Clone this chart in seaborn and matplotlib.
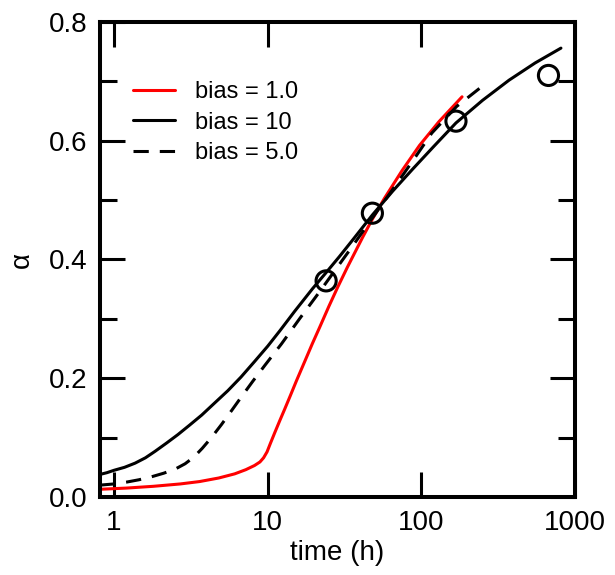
import numpy as np
import pandas as pd
import matplotlib
matplotlib.use("Agg")
import matplotlib.pyplot as plt
import seaborn as sns
from matplotlib.ticker import MultipleLocator, NullLocator, FixedLocator, FormatStrFormatter

# Values (time in h, alpha)
t_bias1 = [0.81, 1.2, 1.8, 2.7, 3.6, 4.8, 6.1, 7.2, 8.2, 8.9, 9.4, 9.9, 10.4, 11.1, 12.0,
           12.9, 14.0, 15.4, 17.4, 19.5, 21.8, 25, 28.5, 33, 41.6, 48, 57.5, 75, 97.2, 130, 184]
a_bias1 = [0.013, 0.015, 0.018, 0.022, 0.026, 0.032, 0.039, 0.046, 0.053, 0.059, 0.066, 0.076,
           0.090, 0.108, 0.129, 0.148, 0.170, 0.196, 0.228, 0.258, 0.286, 0.321, 0.353, 0.387,
           0.438, 0.468, 0.503, 0.550, 0.592, 0.632, 0.674]

t_bias10 = [0.81, 0.9, 1.0, 1.17, 1.37, 1.6, 1.85, 2.2, 2.6, 3.1, 3.72, 4.5, 5.5, 6.7, 8.2,
            10, 12, 15, 19.6, 24, 29.3, 36, 48, 65, 87.6, 120, 168, 250, 372, 550, 810]
a_bias10 = [0.038, 0.041, 0.045, 0.050, 0.057, 0.066, 0.077, 0.091, 0.105, 0.121, 0.138, 0.158,
            0.179, 0.202, 0.228, 0.254, 0.280, 0.313, 0.351, 0.378, 0.405, 0.434, 0.475, 0.515,
            0.552, 0.590, 0.630, 0.668, 0.702, 0.731, 0.756]

t_bias5 = [0.81, 1.0, 1.2, 1.45, 1.75, 2.1, 2.5, 2.9, 3.3, 3.75, 4.3, 5.0, 5.8, 6.8, 8.0,
           9.6, 12.3, 16.1, 21.8, 28, 36, 48, 68.9, 90, 117, 170, 244]
a_bias5 = [0.020, 0.022, 0.025, 0.029, 0.034, 0.040, 0.047, 0.056, 0.067, 0.082, 0.100, 0.122,
           0.145, 0.170, 0.195, 0.222, 0.258, 0.300, 0.346, 0.385, 0.424, 0.470, 0.527, 0.570,
           0.613, 0.658, 0.690]

t_exp = [24, 48, 168, 672]
a_exp = [0.364, 0.478, 0.633, 0.710]

sns.set_style("ticks")
plt.rcParams["font.family"] = ["Liberation Sans", "DejaVu Sans"]
plt.rcParams["text.color"] = "black"
plt.rcParams["axes.labelcolor"] = "black"

fig = plt.figure(figsize=(6.15, 5.75), dpi=100)
ax = fig.add_axes([100 / 615, 1 - 497 / 575, 475 / 615, 475 / 575])

lw = 2.2
sns.lineplot(x=t_bias1, y=a_bias1, ax=ax, color="#ff0000", linewidth=lw,
             sort=False, estimator=None, label="bias = 1.0")
sns.lineplot(x=t_bias10, y=a_bias10, ax=ax, color="black", linewidth=lw,
             sort=False, estimator=None, label="bias = 10")
sns.lineplot(x=t_bias5, y=a_bias5, ax=ax, color="black", linewidth=lw,
             sort=False, estimator=None, label="bias = 5.0")
ax.lines[2].set_dashes((5, 3.6))

sns.scatterplot(x=t_exp, y=a_exp, ax=ax, marker="o", s=210,
                facecolor="none", edgecolor="black", linewidth=lw, zorder=5)

ax.set_xscale("log")
ax.set_xlim(0.81, 1000)
ax.set_ylim(0, 0.8)
ax.xaxis.set_major_locator(FixedLocator([1, 10, 100, 1000]))
ax.xaxis.set_minor_locator(NullLocator())
ax.set_xticklabels(["1", "10", "100", "1000"])
ax.yaxis.set_major_locator(MultipleLocator(0.2))
ax.yaxis.set_minor_locator(MultipleLocator(0.1))
ax.yaxis.set_major_formatter(FormatStrFormatter("%.1f"))

ax.tick_params(which="both", direction="in", top=True, right=True, width=2.2,
               labelsize=20, colors="black")
ax.tick_params(which="major", length=18, pad=9)
ax.tick_params(which="minor", length=12)
for sp in ax.spines.values():
    sp.set_visible(True)
    sp.set_linewidth(2.9)
    sp.set_color("black")

ax.set_xlabel("time (h)", fontsize=20, labelpad=3)
ax.set_ylabel("\u03b1", fontsize=20, labelpad=10)

ax.legend(loc="upper left", bbox_to_anchor=(0.069, 0.875), frameon=False,
          fontsize=17, handlelength=1.8, handletextpad=0.85, labelspacing=0.35,
          borderpad=0, borderaxespad=0)

fig.savefig("out.png", dpi=100)
